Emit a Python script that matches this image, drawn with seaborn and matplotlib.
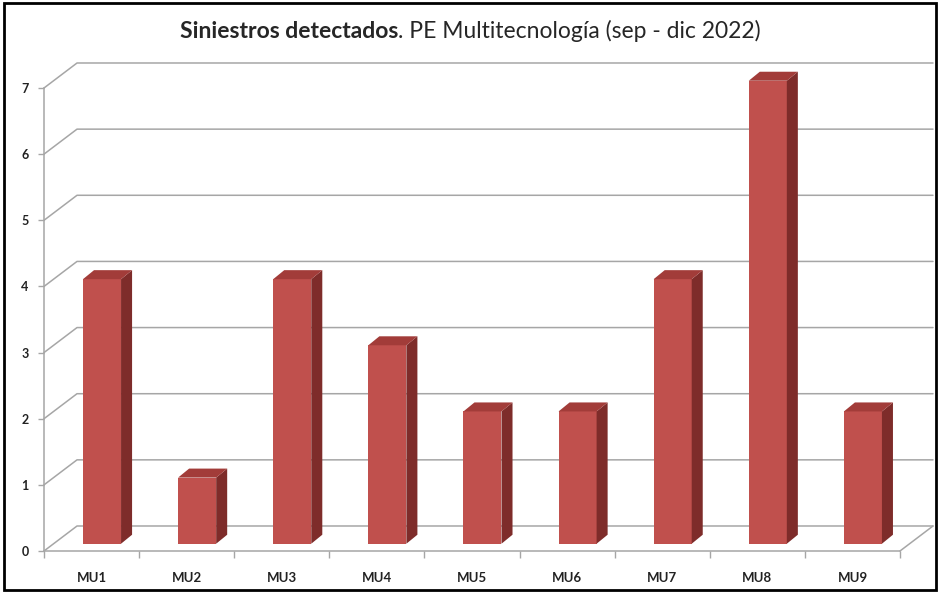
import pandas as pd
import matplotlib.pyplot as plt
from matplotlib.patches import Polygon, Rectangle
import seaborn as sns

# Data
categories = ['MU1', 'MU2', 'MU3', 'MU4', 'MU5', 'MU6', 'MU7', 'MU8', 'MU9']
values = [4, 1, 4, 3, 2, 2, 4, 7, 2]
y_ticks = [0, 1, 2, 3, 4, 5, 6, 7]
title_bold = 'Siniestros detectados'
title_rest = '. PE Multitecnología (sep - dic 2022)'

df = pd.DataFrame({'unidad': categories, 'siniestros': values})

sns.set_theme(style='white')
plt.rcParams['font.family'] = ['Lato', 'DejaVu Sans']

grid_col = '#a6a6a6'
front_col = '#c0504d'
side_col = '#7e2c2a'
top_col = '#a23c39'

# fake 3D offsets (data units)
WDX, WDY = 0.347, 0.378   # wall depth
BOX, BOY = 0.11, 0.11     # bar plane offset
BDX, BDY = 0.116, 0.136   # bar depth

fig = plt.figure(figsize=(9.4, 5.94), dpi=100)
ax = fig.add_axes([44 / 940, 43 / 594, 856 / 940, 463 / 594])

sns.barplot(data=df, x='unidad', y='siniestros', color=front_col, saturation=1,
            width=0.40, ax=ax, zorder=3)

n = len(categories)
ax.set_xlim(-0.5, n - 0.5)
ax.set_ylim(0, 7)

# back walls / gridlines
x0, x1 = -0.5, n - 0.5
for t in y_ticks:
    ax.plot([x0, x0 + WDX, x1 + WDX], [t, t + WDY, t + WDY], color=grid_col,
            lw=1.1, clip_on=False, zorder=1)
ax.plot([x1, x1 + WDX], [0, WDY], color=grid_col, lw=1.1, clip_on=False, zorder=1)

# shift the front faces and add sides / tops
for p in list(ax.patches):
    p.set_x(p.get_x() + BOX)
    p.set_y(BOY)
    p.set_edgecolor('none')
    p.set_clip_on(False)
    xl = p.get_x()
    xr = xl + p.get_width()
    yb = p.get_y()
    yt = yb + p.get_height()
    side = Polygon([(xr, yb), (xr + BDX, yb + BDY), (xr + BDX, yt + BDY), (xr, yt)],
                   closed=True, facecolor=side_col, edgecolor='none', zorder=3,
                   clip_on=False)
    top = Polygon([(xl, yt), (xl + BDX, yt + BDY), (xr + BDX, yt + BDY), (xr, yt)],
                  closed=True, facecolor=top_col, edgecolor='none', zorder=3,
                  clip_on=False)
    ax.add_patch(side)
    ax.add_patch(top)

# axes styling
for s in ['top', 'right']:
    ax.spines[s].set_visible(False)
for s in ['left', 'bottom']:
    ax.spines[s].set_color(grid_col)
    ax.spines[s].set_linewidth(1.1)
ax.set_yticks(y_ticks)
ax.set_xticks(range(n))
ax.set_xticklabels(categories)
ax.set_xticks([i - 0.5 for i in range(n + 1)], minor=True)
ax.tick_params(axis='y', which='major', left=True, length=4, width=1,
               color=grid_col, pad=7, labelsize=9)
ax.tick_params(axis='x', which='major', bottom=False, pad=9, labelsize=9.5)
ax.tick_params(axis='x', which='minor', bottom=True, length=5, width=1,
               color=grid_col)
for lab in ax.get_xticklabels() + ax.get_yticklabels():
    lab.set_fontweight('bold')
    lab.set_color('#222222')
ax.set_xlabel('')
ax.set_ylabel('')

# title: bold part + regular part, centred together
fig.canvas.draw()
r = fig.canvas.get_renderer()
tb = fig.text(0, 0, title_bold, fontsize=16.5, fontweight='bold')
tr = fig.text(0, 0, title_rest, fontsize=16.5)
wb = tb.get_window_extent(r).width
wr = tr.get_window_extent(r).width
start = (940 - wb - wr) / 2 / 940
tb.set_position((start, 1 - 31 / 594))
tr.set_position((start + wb / 940, 1 - 31 / 594))
tb.set_va('center')
tr.set_va('center')

# outer border
fig.patches.append(Rectangle((4 / 940, 4 / 594), 932 / 940, 587 / 594,
                             transform=fig.transFigure, fill=False,
                             edgecolor='black', lw=2))

fig.savefig('out.png', dpi=100)
